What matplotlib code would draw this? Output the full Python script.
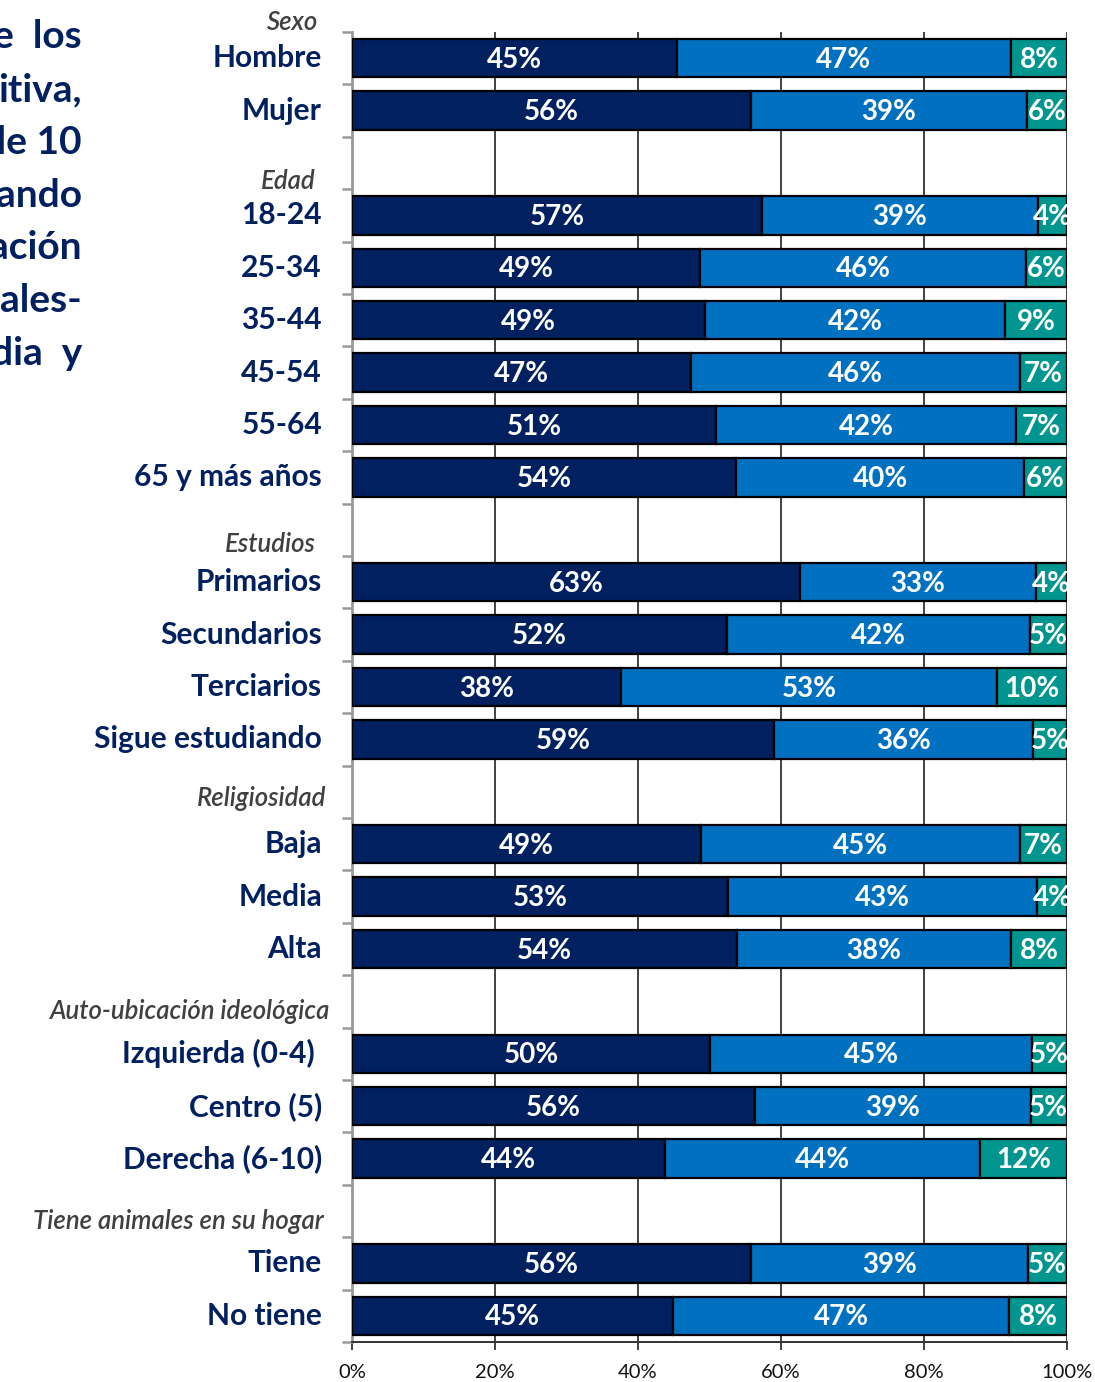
import matplotlib
matplotlib.use("Agg")
import matplotlib.pyplot as plt
import matplotlib.transforms as mtransforms
import numpy as np

# ---------------- data ----------------
groups = ["Sexo", "Edad", "Estudios", "Religiosidad",
          "Auto-ubicación ideológica", "Tiene animales en su hogar"]
group_members = [
    ["Hombre", "Mujer"],
    ["18-24", "25-34", "35-44", "45-54", "55-64", "65 y más años"],
    ["Primarios", "Secundarios", "Terciarios", "Sigue estudiando"],
    ["Baja", "Media", "Alta"],
    ["Izquierda (0-4) ", "Centro (5)", "Derecha (6-10)"],
    ["Tiene", "No tiene"],
]
serie_1 = [45.4, 55.8, 57.3, 48.7, 49.4, 47.4, 50.9, 53.7, 62.7, 52.4, 37.6, 59.0,
           48.8, 52.6, 53.8, 50.1, 56.3, 43.8, 55.8, 44.9]
serie_2 = [46.8, 38.6, 38.6, 45.6, 41.9, 46.0, 42.0, 40.3, 32.9, 42.4, 52.6, 36.2,
           44.6, 43.2, 38.4, 45.0, 38.6, 44.0, 38.8, 47.0]
serie_3 = [7.8, 5.6, 4.1, 5.7, 8.7, 6.6, 7.1, 6.0, 4.4, 5.2, 9.8, 4.8,
           6.6, 4.2, 7.8, 4.9, 5.1, 12.2, 5.4, 8.1]
x_ticks = [0, 20, 40, 60, 80, 100]
x_tick_labels = ["0%", "20%", "40%", "60%", "80%", "100%"]
side_text = ["e  los", "itiva,", "de 10", "ando", "ación", "ales-", "dia  y"]

# ---------------- style ----------------
FONT = "Lato"
NAVY = "#002060"
BLUE = "#0070C0"
TEAL = "#00968F"
colors = [NAVY, BLUE, TEAL]
header_offsets = [0.69, 0.65, 0.71, 0.88, 0.80, 0.80]
header_right = [318, 315, 316, 326, 330, 324]

W, H = 1095, 1382
fig = plt.figure(figsize=(W / 100, H / 100), dpi=100)
ax = fig.add_axes([352 / W, 1 - 1342 / H, (1067 - 352) / W, (1342 - 32) / H])

# positions of rows
row_pos = []
labels = []
first_rows = []
r = 0
for gi, members in enumerate(group_members):
    if gi > 0:
        r += 1  # blank row for the header
    first_rows.append(r)
    for m in members:
        row_pos.append(r)
        labels.append(m)
        r += 1
n_rows = r

series = [np.array(serie_1), np.array(serie_2), np.array(serie_3)]
left = np.zeros(len(row_pos))
for vals, col in zip(series, colors):
    ax.barh(row_pos, vals, left=left, height=0.73, color=col,
            edgecolor="black", linewidth=1.6, zorder=3)
    for y, l, v in zip(row_pos, left, vals):
        ax.text(l + v / 2, y + 0.03, f"{v:.0f}%", ha="center", va="center",
                color="white", fontsize=20, fontweight="bold", family=FONT,
                zorder=4, clip_on=True)
    left = left + vals

ax.set_xlim(0, 100)
ax.set_ylim(n_rows - 0.5, -0.5)

# grid
ax.set_xticks(x_ticks)
ax.set_xticklabels(x_tick_labels, fontsize=14.5, family=FONT, color="#111111")
ax.xaxis.grid(True, color="#333333", linewidth=1.3, zorder=0)
ax.set_axisbelow(True)
ax.tick_params(axis="x", length=6, width=1.3, color="#333333", pad=10)

ax.set_yticks([])
ax.set_yticks(np.arange(-0.5, n_rows, 1.0), minor=True)
ax.tick_params(axis="y", which="minor", length=7, width=1.8, color="#999999", left=True)
ax.tick_params(axis="y", which="major", left=False, labelleft=False)

for s in ["top", "right"]:
    ax.spines[s].set_visible(False)
ax.spines["left"].set_color("#999999")
ax.spines["left"].set_linewidth(2)
ax.spines["bottom"].set_color("#333333")
ax.spines["bottom"].set_linewidth(1.4)

trans = mtransforms.blended_transform_factory(fig.transFigure, ax.transData)
for y, lab in zip(row_pos, labels):
    ax.text(322 / W, y, lab, transform=trans, ha="right", va="center",
            fontsize=21.5, fontweight="bold", family=FONT, color=NAVY)
for g, fr, off, xr in zip(groups, first_rows, header_offsets, header_right):
    ax.text(xr / W, fr - off, g, transform=trans, ha="right", va="center",
            fontsize=18.5, style="italic", fontweight="semibold", family=FONT,
            color="#404040", clip_on=False)

# cut-off paragraph at the left
for i, t in enumerate(side_text):
    fig.text(82 / W, 1 - (37 + 52.7 * i) / H, t, ha="right", va="center",
             fontsize=28, fontweight="bold", family=FONT, color=NAVY)

fig.savefig("out.png", dpi=100)
